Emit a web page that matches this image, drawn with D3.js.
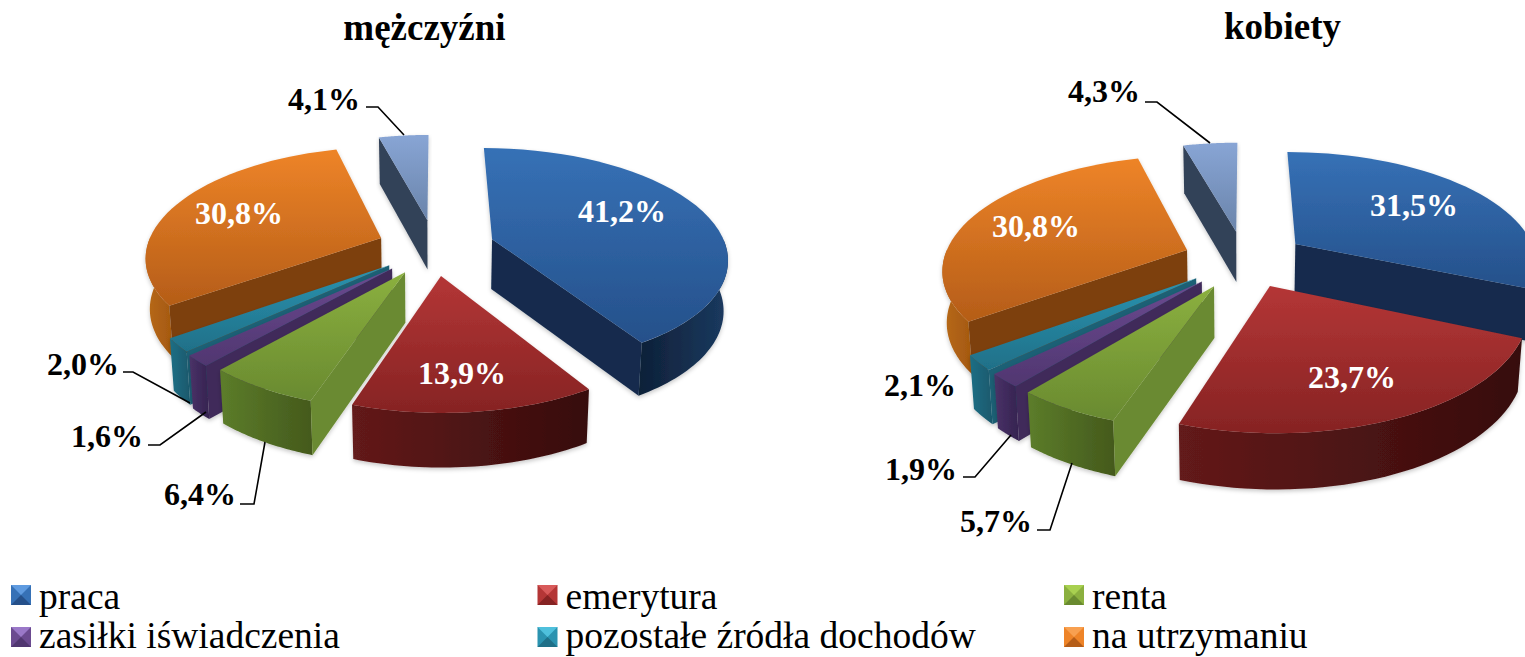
<!DOCTYPE html>
<html><head><meta charset="utf-8">
<script src="https://cdn.jsdelivr.net/npm/d3@7"></script>
<style>html,body{margin:0;padding:0;background:#fff;overflow:hidden}svg{display:block}text{font-family:"Liberation Serif",serif}</style>
</head><body><svg id="c" width="1525" height="657"></svg>
<script>
const categories = ["praca","emerytura","renta","zasiłki iświadczenia","pozostałe źródła dochodów","na utrzymaniu","inne"];
const legendCategories = categories.slice(0,6);
const valuesMen = [41.2,13.9,6.4,1.6,2.0,30.8,4.1];
const valuesWomen = [31.5,23.7,5.7,1.9,2.1,30.8,4.3];
const titles = ["mężczyźni","kobiety"];

const topLight  = ["#3671b6","#b43636","#8bb03f","#6b4a90","#2b93b0","#ee8428","#88a5d5"];
const topDark   = ["#25508a","#862323","#698a30","#503670","#1f7088","#b55d18","#6a84aa"];
const wallLeft  = ["#0e2038","#631a1a","#5c7d2a","#4a3268","#1f6f85","#b86a1a","#334259"];
const wallRight = ["#1b3a60","#360c0c","#44591c","#352350","#19586c","#a4580f","#334259"];
const wallSide  = ["#152c4e","#5a1616","#6a8a30","#3f2c5a","#1d6075","#7d4010","#334259"];
const swatchLight = ["#5f9be0","#d85a5a","#a8d050","#9a78c8","#4fc0dc","#f8a050"];
const paintOrder = [6,5,4,3,2,0,1];

const pies = [
 {values:valuesMen, cx:430, cy:248, A:234, B:108, depth:50, explode:[.27,.18,.20,.22,.22,.22,.30],
  nudge:[[2,-1],[6,8],[-1,5],[-1,3],[0,2],[-1,-2],[6,3]],
  inner:{0:[192,-26],1:[32,136],5:[-191,-24]},
  outer:{6:{t:[-106,-138],l:[[-64,-141],[-52,-141],[-26,-113]]},
         4:{t:[-347,127],l:[[-307,124],[-297,124],[-240,155]]},
         3:{t:[-323,199],l:[[-282,197],[-270,197],[-224,164]]},
         2:{t:[-230,257],l:[[-190,256],[-176,256],[-165,194]]}}},
 {values:valuesWomen, cx:1236, cy:254, A:243, B:112, depth:51, explode:[.30,.30,.23,.22,.22,.22,.28],
  nudge:[[0,8],[3,0],[6,9],[3,9],[2,8],[1,4],[9,7.5]],
  inner:{0:[178,-38],1:[116,134],5:[-200,-17]},
  outer:{6:{t:[-132,-152],l:[[-91,-152],[-79,-152],[-26,-111]]},
         4:{t:[-316,142],l:null},
         3:{t:[-315,226],l:[[-273,223],[-261,223],[-225,181]]},
         2:{t:[-240,278],l:[[-199,276],[-186,276],[-164,209]]}}}
];

const svg = d3.select("#c");
const defs = svg.append("defs");
categories.forEach((c,i)=>{
  const g1 = defs.append("linearGradient").attr("id","top"+i).attr("x1",0).attr("y1",0).attr("x2",0).attr("y2",1);
  g1.append("stop").attr("offset",0).attr("stop-color",topLight[i]);
  g1.append("stop").attr("offset",1).attr("stop-color",topDark[i]);
  const g2 = defs.append("linearGradient").attr("id","wall"+i);
  g2.append("stop").attr("offset",0).attr("stop-color",wallLeft[i]);
  g2.append("stop").attr("offset",1).attr("stop-color",wallRight[i]);
});
const blur = defs.append("filter").attr("id","soft").attr("x","-5%").attr("y","-5%").attr("width","110%").attr("height","115%");
blur.append("feDropShadow").attr("dx",0).attr("dy",2).attr("stdDeviation",2).attr("flood-color","#000").attr("flood-opacity",.22);

const line = d3.line();
const P = 0.16, SHRINK = 0.985, LABEL_SIZE = 32;

function drawPie(cfg){
  const arcs = d3.pie().sort(null).value(d=>d)(cfg.values);
  const project = (X,Y,low) => {
    const w = 1/(1-P*Y);
    let x = cfg.cx + cfg.A*X*w, y = cfg.cy + cfg.B*Y*w;
    if(low){ x = cfg.cx + (x-cfg.cx)*SHRINK; y += cfg.depth*(1+(w-1)*.4); }
    return [x,y];
  };
  const layer = svg.append("g");
  paintOrder.forEach(i=>{
    const a = arcs[i], mid = (a.startAngle+a.endAngle)/2, E = cfg.explode[i], n = cfg.nudge[i];
    const ox = E*Math.sin(mid), oy = -E*Math.cos(mid);
    const pt = (th,r,low) => { const p = project(ox+r*Math.sin(th), oy-r*Math.cos(th), low); return [p[0]+n[0],p[1]+n[1]]; };
    const range = (s,e) => d3.range(0,41).map(k=>s+(e-s)*k/40);
    const g = layer.append("g").attr("filter","url(#soft)");
    const s = Math.max(a.startAngle,Math.PI/2), e = Math.min(a.endAngle,1.5*Math.PI);
    if(e>s){
      const th = range(s,e);
      const poly = th.map(t=>pt(t,1,false)).concat(th.slice().reverse().map(t=>pt(t,1,true)));
      g.append("path").attr("d",line(poly)+"Z").attr("fill",`url(#wall${i})`);
    }
    const radial = th => [pt(th,0,false),pt(th,1,false),pt(th,1,true),pt(th,0,true)];
    if(Math.sin(a.startAngle)<-1e-6) g.append("path").attr("d",line(radial(a.startAngle))+"Z").attr("fill",wallSide[i]);
    if(Math.sin(a.endAngle)>1e-6) g.append("path").attr("d",line(radial(a.endAngle))+"Z").attr("fill",wallSide[i]);
    const top = [pt(0,0,false)].concat(range(a.startAngle,a.endAngle).map(t=>pt(t,1,false)));
    g.append("path").attr("d",line(top)+"Z").attr("fill",`url(#top${i})`);
  });
  const fmt = v => d3.format(".1f")(v).replace(".",",")+"%";
  Object.keys(cfg.inner).forEach(i=>{
    const o = cfg.inner[i];
    svg.append("text").attr("x",cfg.cx+o[0]).attr("y",cfg.cy+o[1]).attr("text-anchor","middle")
      .attr("font-size",LABEL_SIZE).attr("font-weight","bold").attr("fill","#fff").text(fmt(cfg.values[i]));
  });
  Object.keys(cfg.outer).forEach(i=>{
    const o = cfg.outer[i];
    if(o.l) svg.append("path").attr("d",line(o.l.map(p=>[cfg.cx+p[0],cfg.cy+p[1]])))
      .attr("fill","none").attr("stroke","#000").attr("stroke-width",1.6);
    svg.append("text").attr("x",cfg.cx+o.t[0]).attr("y",cfg.cy+o.t[1]).attr("text-anchor","middle")
      .attr("font-size",LABEL_SIZE).attr("font-weight","bold").attr("fill","#000").text(fmt(cfg.values[i]));
  });
}
pies.forEach(drawPie);

const titleX = [424.5,1282.5], titleY = [40,39];
titles.forEach((t,i)=>svg.append("text").attr("x",titleX[i]).attr("y",titleY[i]).attr("text-anchor","middle")
  .attr("font-size",37).attr("font-weight","bold").attr("fill","#000").text(t));

const legendX = d3.scalePoint().domain([0,1,2]).range([11,1064]);
const legendY = d3.scalePoint().domain([0,1]).range([585,627]);
const legendBaseline = [24,21];
legendCategories.forEach((c,i)=>{
  const col=i%3,row=Math.floor(i/3);
  const x=legendX(col),y=legendY(row),S=20,C=S/2;
  const g=svg.append("g").attr("transform",`translate(${x},${y})`);
  g.append("rect").attr("width",S).attr("height",S).attr("fill",topLight[i]);
  g.append("path").attr("d",line([[0,0],[S,0],[C,C]])+"Z").attr("fill",swatchLight[i]);
  g.append("path").attr("d",line([[0,S],[S,S],[C,C]])+"Z").attr("fill",topDark[i]);
  g.append("text").attr("x",28).attr("y",legendBaseline[row]).attr("font-size",37.5).attr("fill","#000").text(c);
});
</script></body></html>
